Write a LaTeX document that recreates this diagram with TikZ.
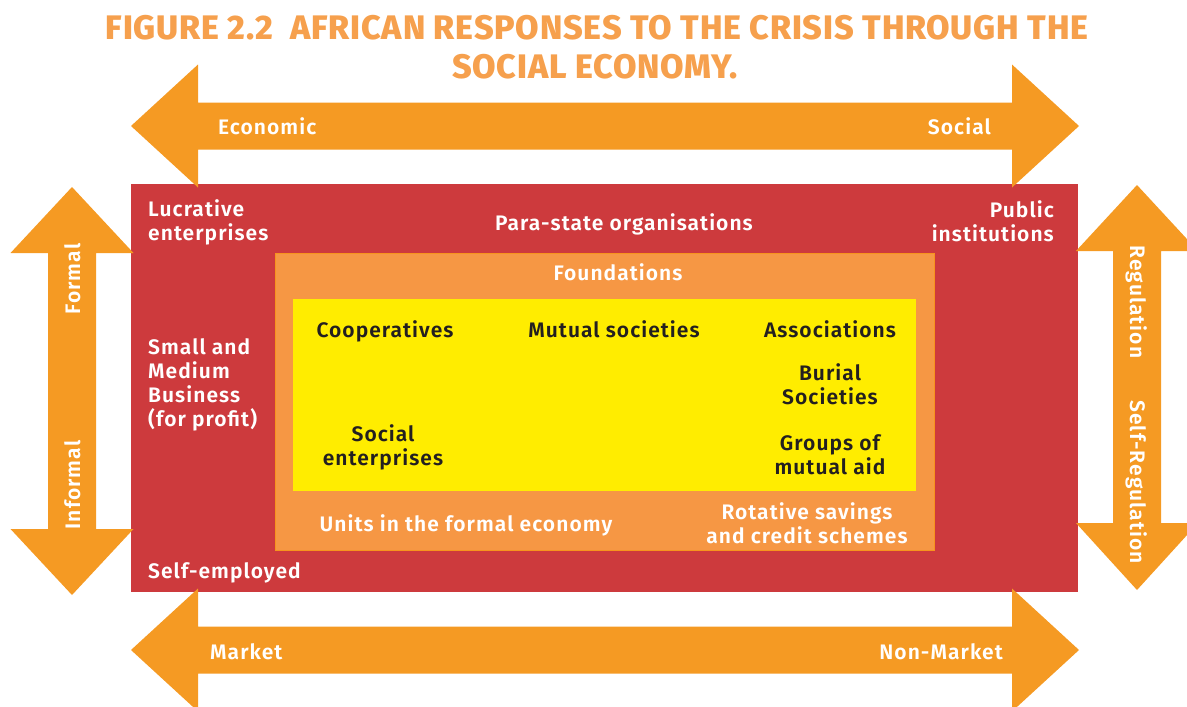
\documentclass[tikz,border=0pt]{standalone}
\usepackage{fontspec}
\setmainfont{Fira Sans}[UprightFont={* SemiBold}, BoldFont={* ExtraBold}, LetterSpace=5]
\newfontfamily\titlefont{Fira Sans}[UprightFont={* ExtraBold}, LetterSpace=2.4]
\definecolor{arroworange}{HTML}{F59A23}
\definecolor{boxred}{HTML}{CD3A3D}
\definecolor{midorange}{HTML}{F69744}
\definecolor{edgeorange}{HTML}{F7941D}
\definecolor{coreyellow}{HTML}{FFED00}
\definecolor{inktext}{HTML}{231F20}
\definecolor{titleorange}{HTML}{F6A04D}
\tikzset{
  blockarrow/.style={fill=arroworange, draw=none},
  lbl/.style={inner sep=0pt, font=\fontsize{21}{24}\selectfont, text=white},
  darklbl/.style={lbl, text=inktext},
  oneline/.style={text height=16pt, text depth=0pt},
  ttl/.style={inner sep=0pt, text=titleorange, font=\titlefont\fontsize{34}{39}\selectfont}
}
\begin{document}
\begin{tikzpicture}[x=1pt, y=-1pt]
\useasboundingbox (0,0) rectangle (1187,707);
\clip (0,0) rectangle (1187,707);

% title
\node[ttl] (title1) at (597,28) {FIGURE 2.2\ \ AFRICAN RESPONSES TO THE CRISIS THROUGH THE};
\node[ttl] (title2) at (595,67) {SOCIAL ECONOMY.};

% nested boxes
\fill[boxred] (131,184) rectangle (1078,592);
\filldraw[fill=midorange, draw=edgeorange, line width=1pt] (275.5,253.5) rectangle (934.5,550);
\fill[coreyellow] (293,299) rectangle (916,491);

% horizontal double arrows
\fill[blockarrow] (131,126) -- (198,64.5) -- (198,102.5) -- (1012,102.5) -- (1012,64.5)
  -- (1079,126) -- (1012,187.5) -- (1012,149.5) -- (198,149.5) -- (198,187.5) -- cycle;
\fill[blockarrow] (131,650) -- (198,588.5) -- (198,626.5) -- (1012,626.5) -- (1012,588.5)
  -- (1079,650) -- (1012,711.5) -- (1012,673.5) -- (198,673.5) -- (198,711.5) -- cycle;

% vertical double arrows
\fill[blockarrow] (72,187) -- (133.5,253) -- (96,253) -- (96,529) -- (133.5,529)
  -- (72,595) -- (10.5,529) -- (48,529) -- (48,253) -- (10.5,253) -- cycle;
\fill[blockarrow] (1137,185) -- (1198,251) -- (1161,251) -- (1161,523) -- (1198,523)
  -- (1137,590) -- (1076,523) -- (1113,523) -- (1113,251) -- (1076,251) -- cycle;

% arrow labels
\node[lbl, oneline, anchor=west] (economic) at (218,126) {Economic};
\node[lbl, oneline, anchor=east] (social) at (991,126) {Social};
\node[lbl, oneline, anchor=west] (market) at (210,651) {Market};
\node[lbl, oneline, anchor=east] (nonmarket) at (1003,651) {Non-Market};
\node[lbl, oneline, rotate=90] (formal) at (72,279) {Formal};
\node[lbl, oneline, rotate=90] (informal) at (72,485) {Informal};
\node[lbl, oneline, rotate=-90] (regulation) at (1138,302) {Regulation};
\node[lbl, oneline, rotate=-90] (selfreg) at (1138,482) {Self-Regulation};

% red band labels
\node[lbl, anchor=west, align=left] (lucrative) at (148,222) {Lucrative\\enterprises};
\node[lbl, oneline] (parastate) at (624,222) {Para-state organisations};
\node[lbl, anchor=east, align=right] (public) at (1054,221) {Public\\institutions};
\node[lbl, anchor=west, align=left] (sme) at (148,385) {Small and\\Medium\\Business\\(for profit)};
\node[lbl, oneline, anchor=west] (selfemp) at (148,570) {Self-employed};

% orange band labels
\node[lbl, oneline] (foundations) at (618,272) {Foundations};
\node[lbl, oneline] (units) at (466,523) {Units in the formal economy};
\node[lbl, align=center] (rosca) at (807,523) {Rotative savings\\and credit schemes};

% core labels
\node[darklbl, oneline] (coop) at (385,329) {Cooperatives};
\node[darklbl, oneline] (mutual) at (614,329) {Mutual societies};
\node[darklbl, oneline] (assoc) at (830,329) {Associations};
\node[darklbl, align=center] (burial) at (830,384) {Burial\\Societies};
\node[darklbl, align=center] (groups) at (830,455) {Groups of\\mutual aid};
\node[darklbl, align=center] (socent) at (383,447) {Social\\enterprises};
\end{tikzpicture}
\end{document}
